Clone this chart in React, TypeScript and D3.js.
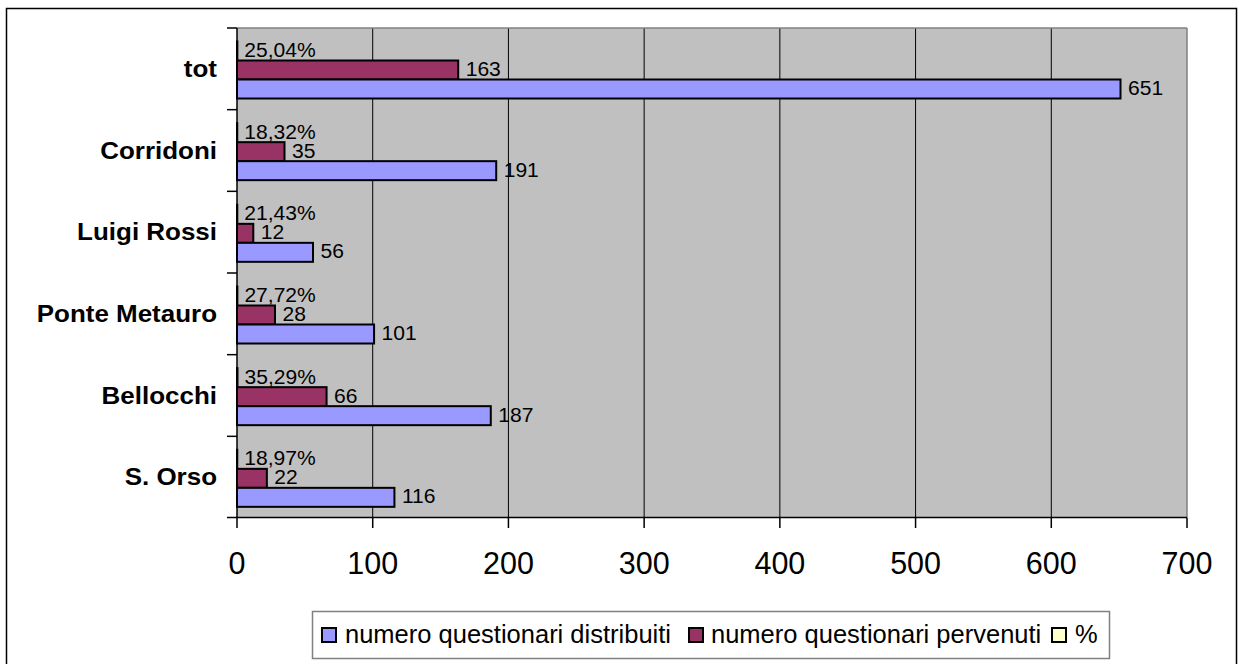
import React from "react";
import * as d3 from "d3";

const categories = ["S. Orso", "Bellocchi", "Ponte Metauro", "Luigi Rossi", "Corridoni", "tot"];
const distribuiti = [116, 187, 101, 56, 191, 651];
const pervenuti = [22, 66, 28, 12, 35, 163];
const percentuale = [18.97, 35.29, 27.72, 21.43, 18.32, 25.04];
const xTicks = [0, 100, 200, 300, 400, 500, 600, 700];
const seriesNames = ["numero questionari distribuiti", "numero questionari pervenuti", "%"];
const seriesColors = ["#9999FF", "#993366", "#FFFFCC"];

const W = 1239;
const H = 664;
const FONT = "'Liberation Sans', Arial, sans-serif";

function T(props: {
  x: number; y: number; sx?: number; anchor?: string; size: number; bold?: boolean; children: React.ReactNode;
}) {
  const { x, y, sx = 1, anchor = "start", size, bold, children } = props;
  return (
    <text
      transform={`translate(${x},${y}) scale(${sx},1)`}
      textAnchor={anchor}
      fontSize={size}
      fontWeight={bold ? "bold" : "normal"}
      fontFamily={FONT}
      fill="#000"
    >
      {children}
    </text>
  );
}

export default function App() {
  const plot = { left: 237, right: 1187, top: 28, bottom: 518 };
  const x = d3.scaleLinear().domain([0, 700]).range([plot.left, plot.right]);
  const y = d3.scaleBand<string>().domain([...categories].reverse()).range([plot.top, plot.bottom]);
  const bw = y.bandwidth();
  // sub-band for the three series, top to bottom: %, pervenuti, distribuiti
  const sub = d3.scaleBand<string>().domain(["%", "perv", "dist"]).range([13.5, 70.5]);
  const sh = sub.bandwidth();

  const rows = categories.map((c, i) => ({
    cat: c,
    dist: distribuiti[i],
    perv: pervenuti[i],
    pct: percentuale[i],
  }));

  const legendItems = [
    { sq: 322, tx: 345 },
    { sq: 689, tx: 711 },
    { sq: 1052, tx: 1075 },
  ];

  return (
    <svg width={W} height={H} style={{ position: "absolute", left: 0, top: 0, background: "#fff" }}>
      <rect x={0} y={0} width={W} height={H} fill="#fff" />
      <rect x={6.5} y={8.5} width={1230} height={700} fill="none" stroke="#000" strokeWidth={1.5} />
      {/* plot background */}
      <rect x={plot.left} y={plot.top} width={plot.right - plot.left} height={plot.bottom - plot.top} fill="#C0C0C0" />
      {/* gridlines */}
      {xTicks.slice(1, -1).map((t) => (
        <line key={t} x1={x(t)} x2={x(t)} y1={plot.top} y2={plot.bottom} stroke="#000" strokeWidth={1} />
      ))}
      <line x1={plot.left} x2={plot.right} y1={plot.top} y2={plot.top} stroke="#808080" strokeWidth={1.5} />
      <line x1={plot.right} x2={plot.right} y1={plot.top} y2={plot.bottom} stroke="#808080" strokeWidth={1.5} />
      {/* bars */}
      {rows.map((r) => {
        const b = y(r.cat)!;
        const yd = b + sub("dist")!;
        const yp = b + sub("perv")!;
        const yc = b + sub("%")!;
        return (
          <g key={r.cat}>
            <rect x={x(0)} y={yc} width={x(r.pct / 100) - x(0)} height={sh} fill={seriesColors[2]} stroke="#000" strokeWidth={2} />
            <rect x={x(0)} y={yp} width={x(r.perv) - x(0)} height={sh} fill={seriesColors[1]} stroke="#000" strokeWidth={2} />
            <rect x={x(0)} y={yd} width={x(r.dist) - x(0)} height={sh} fill={seriesColors[0]} stroke="#000" strokeWidth={2} />
            <T x={x(r.pct / 100) + 7} y={yc + sh / 2 + 6} size={19.5} sx={1.08}>
              {r.pct.toFixed(2).replace(".", ",") + "%"}
            </T>
            <T x={x(r.perv) + 7.5} y={yp + sh / 2 + 6} size={19.5} sx={1.08}>
              {r.perv}
            </T>
            <T x={x(r.dist) + 7.5} y={yd + sh / 2 + 6} size={19.5} sx={1.08}>
              {r.dist}
            </T>
          </g>
        );
      })}
      {/* axes */}
      <line x1={plot.left} x2={plot.left} y1={plot.top} y2={plot.bottom} stroke="#000" strokeWidth={1.5} />
      <line x1={plot.left - 10} x2={plot.right} y1={plot.bottom - 0.5} y2={plot.bottom - 0.5} stroke="#000" strokeWidth={1.5} />
      {y.domain().map((c) => (
        <line key={c} x1={plot.left - 10} x2={plot.left} y1={y(c)!} y2={y(c)!} stroke="#000" strokeWidth={1.5} />
      ))}
      {xTicks.map((t) => (
        <g key={t}>
          <line x1={x(t)} x2={x(t)} y1={plot.bottom} y2={plot.bottom + 10} stroke="#000" strokeWidth={1.5} />
          <T x={x(t)} y={574} size={30.5} anchor="middle">
            {t}
          </T>
        </g>
      ))}
      {categories.map((c) => (
        <T key={c} x={plot.left - 20} y={y(c)! + bw / 2 + 8} size={24.5} sx={1.06} bold anchor="end">
          {c}
        </T>
      ))}
      {/* legend */}
      <rect x={312.5} y={611.5} width={797} height={47} fill="#fff" stroke="#808080" strokeWidth={1.5} />
      {legendItems.map((it, i) => (
        <g key={i}>
          <rect x={it.sq} y={628} width={14} height={14} fill={seriesColors[i]} stroke="#000" strokeWidth={2} />
          <T x={it.tx} y={643} size={25} sx={1.02}>
            {seriesNames[i]}
          </T>
        </g>
      ))}
    </svg>
  );
}
